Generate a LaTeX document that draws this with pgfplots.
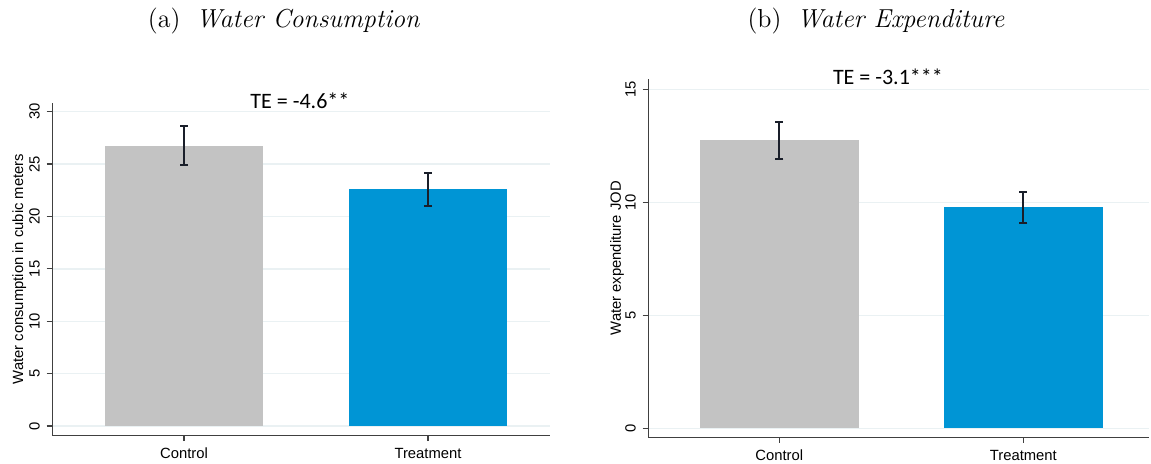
\documentclass[border=0pt]{standalone}
\usepackage{pgfplots}
\pgfplotsset{compat=1.18}
\usepackage{fontspec}
\newfontfamily\arial{Liberation Sans}
\newfontfamily\carlito{Carlito}
\definecolor{barGray}{HTML}{C3C3C3}
\definecolor{barBlue}{HTML}{0095D5}
\definecolor{gridc}{HTML}{EAF1F3}
\definecolor{axisc}{HTML}{404040}
\definecolor{errc}{HTML}{1A1F2A}

\pgfplotsset{
 stata/.style={
  scale only axis,
  axis x line*=bottom, axis y line*=left,
  axis line style={axisc, line width=0.6pt, -},
  tick align=outside,
  major tick length=2.8pt,
  tick style={axisc, line width=0.6pt},
  ymajorgrids, grid style={gridc, line width=0.7pt},
  xtick={0,1}, xticklabels={Control,Treatment},
  ticklabel style={font=\arial\fontsize{7.4}{8}\selectfont},
  /pgf/number format/assume math mode=true,
  yticklabel style={rotate=90, anchor=south, inner xsep=0pt, inner ysep=3.3pt},
  ylabel style={font=\arial\fontsize{7.4}{8}\selectfont, anchor=center},
  clip=false,
 },
 mybar/.style={ybar, bar width=0.65, bar shift=0pt, draw=none, fill=#1,
  error bars/.cd, y dir=both, y explicit,
  error bar style={errc, line width=0.9pt},
  error mark options={rotate=90, mark size=2pt, errc, line width=0.9pt}},
}

\begin{document}
\begin{tikzpicture}
\path[use as bounding box] (0,0) rectangle (575.5pt,232pt);

\node[font=\fontsize{13}{15}\selectfont] at (142pt,221.5pt) {(a)\hspace{0.6em}\textit{Water Consumption}};
\node[font=\fontsize{13}{15}\selectfont] at (438pt,221.5pt) {(b)\hspace{0.6em}\textit{Water Expenditure}};

\begin{axis}[stata,
  at={(26.15pt,14.25pt)}, anchor=south west,
  width=248.85pt, height=166.4pt,
  xmin=-0.54, xmax=1.5, ymin=-0.907, ymax=30.86,
  ytick={0,5,10,15,20,25,30},
  ylabel={Water consumption in cubic meters},
  ylabel style={at={(axis description cs:-0.0663,0.5)}},
]
\addplot[mybar=barGray] coordinates {(0,26.75) += (0,1.85) -= (0,1.81)};
\addplot[mybar=barBlue] coordinates {(1,22.62) += (0,1.56) -= (0,1.59)};
\node[font=\carlito\fontsize{11}{13}\selectfont] at (axis cs:0.475,31.0) {TE = -4.6**};
\end{axis}

\begin{axis}[stata,
  at={(324.15pt,13.35pt)}, anchor=south west,
  width=250.35pt, height=179pt,
  xmin=-0.537, xmax=1.515, ymin=-0.398, ymax=15.44,
  ytick={0,5,10,15},
  ylabel={Water expenditure JOD},
  ylabel style={at={(axis description cs:-0.0625,0.5)}},
]
\addplot[mybar=barGray] coordinates {(0,12.74) += (0,0.80) -= (0,0.81)};
\addplot[mybar=barBlue] coordinates {(1,9.79) += (0,0.65) -= (0,0.71)};
\node[font=\carlito\fontsize{11}{13}\selectfont] at (axis cs:0.445,15.54) {TE = -3.1***};
\end{axis}
\end{tikzpicture}
\end{document}
